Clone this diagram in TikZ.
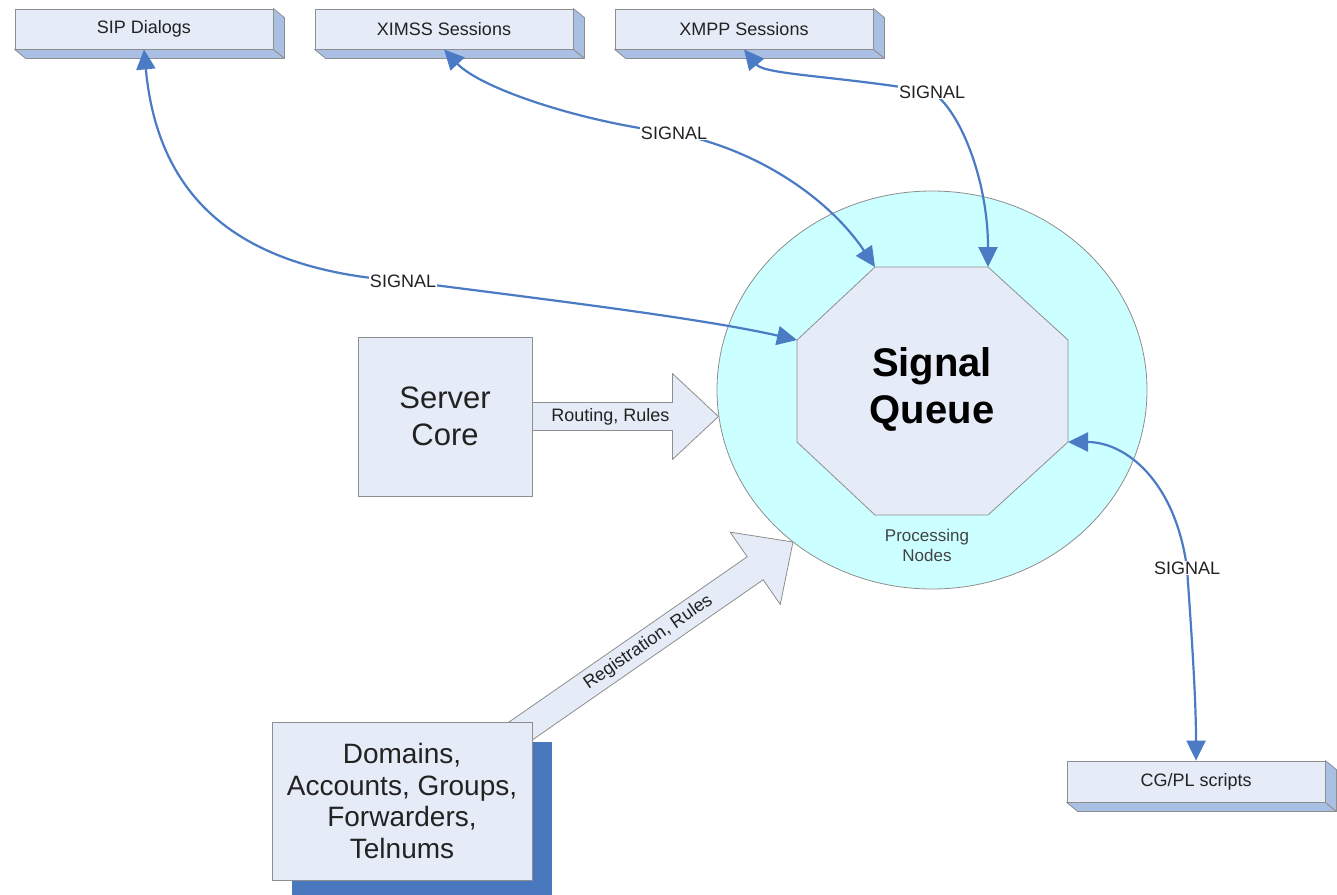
\documentclass[tikz,border=0pt]{standalone}
\usepackage{fontspec}
\setmainfont{Liberation Sans}
\usetikzlibrary{shapes.geometric,arrows.meta,calc}
\definecolor{boxfill}{HTML}{E6ECF7}
\definecolor{boxside}{HTML}{A9C0E4}
\definecolor{boxline}{HTML}{8E8E8E}
\definecolor{sigblue}{HTML}{4A7BC4}
\definecolor{ringfill}{HTML}{CCFFFF}
\definecolor{shadowblue}{HTML}{4A78BE}
\definecolor{txt}{HTML}{222222}
\tikzset{
  flatbox/.style={draw=boxline, fill=boxfill, line width=0.8pt, minimum width=258pt, minimum height=40pt, inner sep=0pt, text=txt, font=\fontsize{18}{21}\selectfont},
  depthside/.style={draw=boxline, fill=boxside, line width=0.8pt, line join=round},
  sig/.style={draw=sigblue, line width=2.2pt, -{Triangle[length=20pt,width=19pt]}},
  lbl/.style={fill=white, inner sep=1pt, text=txt, font=\fontsize{18}{21}\selectfont},
  blockarrow/.style={draw=boxline, fill=boxfill, line width=0.8pt, line join=miter},
  bigbox/.style={draw=boxline, fill=boxfill, line width=0.8pt, align=center, text=txt},
}
\newcommand\drawdepth[1]{%
  \filldraw[depthside] (#1.south west) -- (#1.south east) -- ++(11,9) -- ($(#1.south west)+(11,9)$) -- cycle;
  \filldraw[depthside] (#1.north east) -- ++(11,9) -- ($(#1.south east)+(11,9)$) -- (#1.south east) -- cycle;}
\begin{document}
\begin{tikzpicture}[x=1pt,y=-1pt]
\useasboundingbox[fill=white] (0,0) rectangle (1337,894);

% ring and octagon
\node[ellipse, draw=boxline, fill=ringfill, line width=0.8pt, minimum width=430pt, minimum height=398pt] (ring) at (932,390) {};
\coordinate (o1) at (875,267); \coordinate (o2) at (988,267);
\coordinate (o3) at (1068,340); \coordinate (o4) at (1068,442);
\coordinate (o5) at (988,515); \coordinate (o6) at (875,515);
\coordinate (o7) at (797,442); \coordinate (o8) at (797,340);
\filldraw[draw=boxline, fill=boxfill, line width=0.8pt] (o1)--(o2)--(o3)--(o4)--(o5)--(o6)--(o7)--(o8)--cycle;
\node[font=\bfseries\fontsize{40}{47}\selectfont, align=center, text=black] (sq) at (932,389) {Signal\\Queue};
\node[font=\fontsize{17}{20}\selectfont, align=center, text=txt!85] (pn) at (927,545) {Processing\\Nodes};

% top boxes
\node[flatbox] (sip) at (144,29) {SIP Dialogs};
\drawdepth{sip}
\node[flatbox] (ximss) at (444,29) {XIMSS Sessions};
\drawdepth{ximss}
\node[flatbox] (xmpp) at (744,29) {XMPP Sessions};
\drawdepth{xmpp}
\node[flatbox, minimum height=41pt] (cg) at (1196,781.5) {CG/PL scripts};
\drawdepth{cg}

% Server Core and routing arrow
\node[bigbox, minimum width=174pt, minimum height=159pt, font=\fontsize{31}{37}\selectfont] (core) at (445,416.5) {Server\\Core};
\begin{scope}[shift={(core.east)}]
  \filldraw[blockarrow] (0,-14) -- (140,-14) -- (140,-43) -- (186,0) -- (140,43) -- (140,14) -- (0,14) -- cycle;
  \node[text=txt, font=\fontsize{18}{21}\selectfont] (rr) at (78,0) {Routing, Rules};
\end{scope}

% registration arrow
\coordinate (regtail) at (512,737);
\begin{scope}[shift={(regtail)}, rotate=34.76]
  \filldraw[blockarrow] (0,-14) -- (296,-14) -- (296,-44) -- (342,0) -- (296,44) -- (296,14) -- (0,14) -- cycle;
  \node[rotate=34.76, text=txt, font=\fontsize{18}{21}\selectfont] (reg) at (166,0) {Registration, Rules};
\end{scope}

% Domains box with shadow
\fill[shadowblue] (292,742) rectangle (552,900);
\node[bigbox, minimum width=260pt, minimum height=158pt, font=\fontsize{28}{31.5}\selectfont] (dom) at (402,801) {Domains,\\Accounts, Groups,\\Forwarders,\\Telnums};

% signal connectors
\coordinate (l1) at (403,281);
\coordinate (l2) at (674,133);
\coordinate (l3) at (932,92);
\coordinate (l4) at (1187,568);
\draw[sig] (l1) .. controls (240,270) and (158,200) .. (sip.south);
\draw[sig] (l1) .. controls (550,300) and (700,318) .. (o8);
\draw[sig] (l2) .. controls (580,122) and (480,88) .. (ximss.south);
\draw[sig] (l2) .. controls (760,150) and (830,200) .. (o1);
\draw[sig] (l3) .. controls (840,76) and (765,75) .. (xmpp.south);
\draw[sig] (l3) .. controls (960,110) and (988,180) .. (o2);
\draw[sig] (l4) .. controls (1175,480) and (1125,442) .. (o4);
\draw[sig] (l4) .. controls (1192,640) and (1196,700) .. (cg.north);
\node[lbl] (s1) at (l1) {SIGNAL};
\node[lbl] (s2) at (l2) {SIGNAL};
\node[lbl] (s3) at (l3) {SIGNAL};
\node[lbl] (s4) at (l4) {SIGNAL};
\end{tikzpicture}
\end{document}
